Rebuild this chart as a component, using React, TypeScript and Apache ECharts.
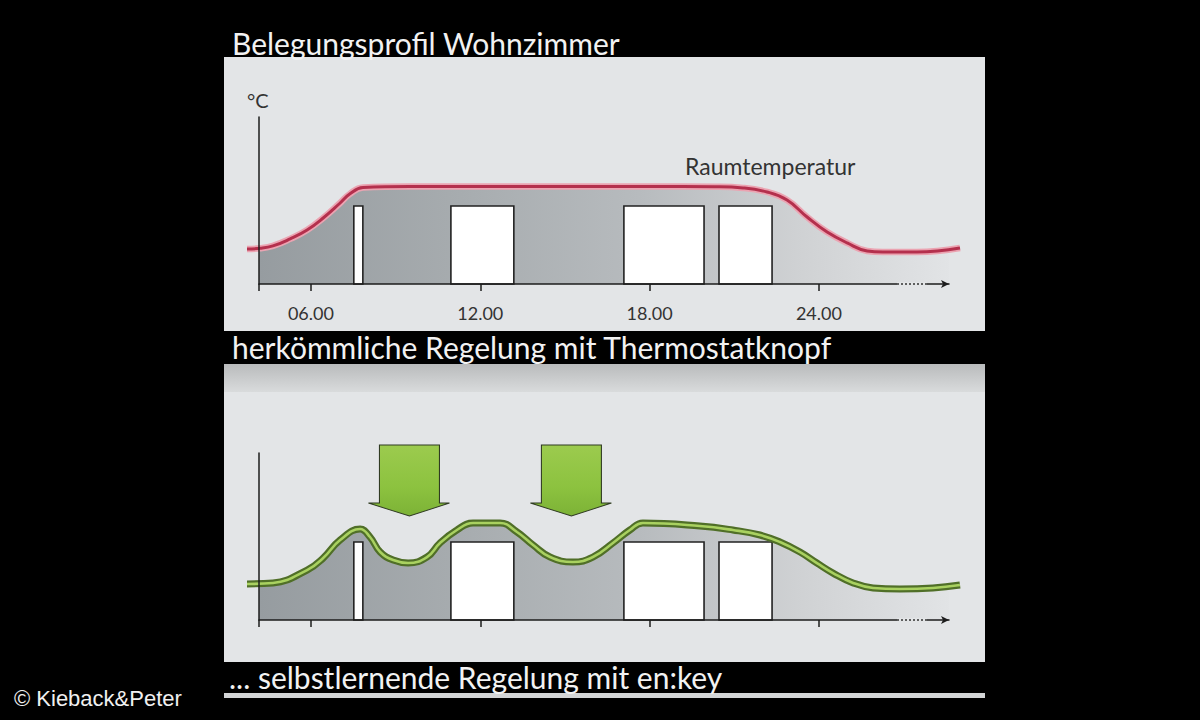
import React, { useEffect, useRef } from "react";
import * as echarts from "echarts";

// ---- axis / ticks ----
const axisStartHour = 4.16;
const axisEndHour = 28.61;
const curveStartHour = 3.73;
const curveEndHour = 29.0;
const tickHours = [6, 12, 18, 24];
const tickLabels = ["06.00", "12.00", "18.00", "24.00"];

// ---- occupancy boxes (hours) ----
const occupancyStart = [7.52, 10.96, 17.09, 20.46];
const occupancyEnd = [7.84, 13.19, 19.93, 22.34];
const occupancyLevel = 46.7;

// ---- conventional thermostat: room temperature (relative units) ----
const conventionalHours = [3.73, 4.2, 4.65, 5.26, 5.86, 6.43, 7.03, 7.38, 7.84, 9.5, 12.0, 15.0, 18.0, 20.3, 21.31, 22.16, 22.87, 23.58, 24.29, 25.0, 25.71, 26.27, 27.47, 29.0];
const conventionalTemp = [21.0, 21.4, 22.8, 27.0, 32.3, 39.5, 48.5, 54.0, 57.8, 58.4, 58.4, 58.4, 58.4, 58.2, 57.5, 55.1, 50.3, 40.1, 31.1, 24.6, 19.8, 19.2, 19.2, 21.6];

// ---- self-learning en:key: room temperature ----
const selfLearningHours = [3.73, 4.65, 5.86, 6.43, 7.03, 7.74, 8.09, 8.45, 8.91, 9.44, 10.11, 10.57, 11.17, 11.74, 12.7, 13.3, 13.87, 14.47, 15.28, 15.99, 16.7, 17.3, 17.76, 19.78, 20.95, 21.91, 22.62, 23.33, 23.93, 24.5, 25.21, 25.92, 26.87, 28.04, 29.0];
const selfLearningTemp = [21.6, 22.2, 29.9, 37.1, 47.9, 54.5, 49.7, 40.7, 35.9, 34.1, 37.7, 46.1, 53.9, 58.1, 58.1, 52.7, 44.9, 37.7, 34.7, 37.7, 46.1, 53.9, 58.1, 56.3, 53.9, 50.9, 46.7, 40.7, 34.1, 28.1, 22.2, 19.2, 18.6, 19.2, 21.0];

// ---- setpoint-lowering arrows (hour, level of arrow centre) ----
const arrowHours = [9.47, 15.21];
const arrowLevels = [83.5, 83.5];

const PANEL = "#e3e5e7";
const FONT = "Lato";
const SMOOTH = 0.45;

export default function App() {
  const ref = useRef<HTMLDivElement>(null);

  useEffect(() => {
    if (!ref.current) return;
    const chart = echarts.init(ref.current, null, { renderer: "svg" });

    const zip = (xs: number[], ys: number[]) => xs.map((x, i) => [x, ys[i]]);
    const topData = zip(conventionalHours, conventionalTemp);
    const botData = zip(selfLearningHours, selfLearningTemp);
    const boxes = occupancyStart.map((s, i) => [s, occupancyEnd[i], occupancyLevel]);

    const areaGrad = {
      type: "linear", x: 0, y: 0, x2: 1, y2: 0,
      colorStops: [
        { offset: 0, color: "#959b9f" },
        { offset: 0.3, color: "#a7acaf" },
        { offset: 0.55, color: "#b7bbbe" },
        { offset: 0.78, color: "#d0d2d4" },
        { offset: 1, color: PANEL },
      ],
    };

    const axisColor = "#1c1c1c";
    const xAxes: any[] = [0, 1].map((i) => ({
      type: "value",
      gridIndex: i,
      min: axisStartHour,
      max: axisEndHour,
      z: 10,
      axisLine: {
        show: true,
        onZero: false,
        symbol: ["none", "arrow"],
        symbolSize: [6, 8],
        lineStyle: { color: axisColor, width: 1.5 },
      },
      axisTick: {
        show: true,
        customValues: [axisStartHour, ...tickHours],
        length: 7,
        lineStyle: { color: axisColor, width: 1.5 },
      },
      axisLabel: {
        show: i === 0,
        customValues: tickHours,
        formatter: (v: number) => {
          const k = tickHours.indexOf(Math.round(v));
          return k >= 0 ? tickLabels[k] : "";
        },
        margin: 20,
        color: "#333333",
        fontSize: 18,
        fontFamily: FONT,
      },
      splitLine: { show: false },
    }));
    // hidden axes of the wider overlay grids for the curves
    [2, 3].forEach((g) =>
      xAxes.push({ type: "value", gridIndex: g, min: curveStartHour, max: curveEndHour, show: false })
    );

    const yAxes: any[] = [0, 1].map((i) => ({
      type: "value",
      gridIndex: i,
      min: 0,
      max: 100,
      z: 10,
      axisLine: { show: true, onZero: false, lineStyle: { color: axisColor, width: 1.5 } },
      axisTick: { show: false },
      axisLabel: { show: false },
      splitLine: { show: false },
    }));
    [2, 3].forEach((g) => yAxes.push({ type: "value", gridIndex: g, min: 0, max: 100, show: false }));

    const boxSeries = (i: number) => ({
      type: "custom",
      xAxisIndex: i,
      yAxisIndex: i,
      z: 3,
      data: boxes,
      renderItem: (params: any, api: any) => {
        const p0 = api.coord([api.value(0), api.value(2)]);
        const p1 = api.coord([api.value(1), 0]);
        return {
          type: "rect",
          shape: { x: p0[0], y: p0[1], width: p1[0] - p0[0], height: p1[1] - p0[1] },
          style: { fill: "#ffffff", stroke: "#222222", lineWidth: 1.6 },
        };
      },
    });

    const arrowPath = "path://M11,0 L71,0 L71,58 L81,58 L41,71 L0,58 L11,58 Z";
    const arrowFill = {
      type: "linear", x: 0, y: 0, x2: 0, y2: 1,
      colorStops: [
        { offset: 0, color: "#9ccb4e" },
        { offset: 0.6, color: "#8cc23f" },
        { offset: 1, color: "#7cb236" },
      ],
    };

    const line = (ax: number, data: number[][], width: number, color: string, z: number, extra: any = {}) => ({
      type: "line", xAxisIndex: ax, yAxisIndex: ax, data, smooth: SMOOTH,
      symbol: "none", lineStyle: { width, color }, z, silent: true, ...extra,
    });

    const option: any = {
      animation: false,
      backgroundColor: "#000000",
      grid: [
        { left: 259, top: 117, width: 690, height: 167 },
        { left: 259, top: 453, width: 690, height: 167 },
        { left: 247, top: 117, width: 713, height: 167 },
        { left: 247, top: 453, width: 713, height: 167 },
      ],
      xAxis: xAxes,
      yAxis: yAxes,
      series: [
        // top chart
        {
          type: "line", xAxisIndex: 0, yAxisIndex: 0, data: topData, smooth: SMOOTH,
          symbol: "none", lineStyle: { width: 0 }, areaStyle: { color: areaGrad, opacity: 1 }, z: 1, silent: true,
        },
        boxSeries(0),
        line(2, topData, 6.5, "#eba3b1", 4),
        line(2, topData, 3, "#b4304d", 5),
        // bottom chart
        {
          type: "line", xAxisIndex: 1, yAxisIndex: 1, data: botData, smooth: SMOOTH,
          symbol: "none", lineStyle: { width: 0 }, areaStyle: { color: areaGrad, opacity: 1 }, z: 1, silent: true,
        },
        boxSeries(1),
        line(3, botData, 7, "#506f28", 4, {
          markPoint: {
            silent: true,
            symbol: arrowPath,
            symbolSize: [81, 71],
            itemStyle: { color: arrowFill, borderColor: "#2f3a22", borderWidth: 1 },
            label: { show: false },
            data: arrowHours.map((h, i) => ({ coord: [h, arrowLevels[i]] })),
          },
        }),
        line(3, botData, 2.6, "#a9d160", 5),
      ],
      graphic: [
        // panels
        { type: "rect", z: -10, shape: { x: 224, y: 57, width: 761, height: 274 }, style: { fill: PANEL } },
        {
          type: "rect", z: -10, shape: { x: 224, y: 364, width: 761, height: 28 },
          style: {
            fill: {
              type: "linear", x: 0, y: 0, x2: 0, y2: 1,
              colorStops: [
                { offset: 0, color: "#b9bbbc" },
                { offset: 1, color: "#d9dbdc" },
              ],
            },
          },
        },
        { type: "rect", z: -10, shape: { x: 224, y: 392, width: 761, height: 270 }, style: { fill: PANEL } },
        { type: "rect", z: -10, shape: { x: 224, y: 693, width: 761, height: 5 }, style: { fill: "#d3d5d6" } },
        // dotted part of time axes
        { type: "rect", z: 20, shape: { x: 897, y: 282, width: 30, height: 4 }, style: { fill: PANEL } },
        { type: "line", z: 21, shape: { x1: 897, y1: 284, x2: 927, y2: 284 }, style: { stroke: "#333", lineWidth: 1.5, lineDash: [2, 2] } },
        { type: "rect", z: 20, shape: { x: 897, y: 618, width: 30, height: 4 }, style: { fill: PANEL } },
        { type: "line", z: 21, shape: { x1: 897, y1: 620, x2: 927, y2: 620 }, style: { stroke: "#333", lineWidth: 1.5, lineDash: [2, 2] } },
        // texts
        {
          type: "text", z: 30, x: 232, y: 43,
          style: { text: "Belegungsprofil Wohnzimmer", fill: "#f2f2f2", font: `30px ${FONT}`, textVerticalAlign: "middle" },
        },
        {
          type: "text", z: 30, x: 232, y: 347,
          style: { text: "herkömmliche Regelung mit Thermostatknopf", fill: "#f2f2f2", font: `30px ${FONT}`, textVerticalAlign: "middle" },
        },
        {
          type: "text", z: 30, x: 229, y: 677,
          style: { text: "... selbstlernende Regelung mit en:key", fill: "#f2f2f2", font: `30px ${FONT}`, textVerticalAlign: "middle" },
        },
        {
          type: "text", z: 30, x: 685, y: 166,
          style: { text: "Raumtemperatur", fill: "#333333", font: `23px ${FONT}`, textVerticalAlign: "middle" },
        },
        {
          type: "text", z: 30, x: 247, y: 100,
          style: { text: "°C", fill: "#333333", font: `20px ${FONT}`, textVerticalAlign: "middle" },
        },
        {
          type: "text", z: 30, x: 14, y: 698,
          style: { text: "© Kieback&Peter", fill: "#f0f0f0", font: "22px 'Liberation Sans'", textVerticalAlign: "middle" },
        },
      ],
    };

    chart.setOption(option);
    return () => chart.dispose();
  }, []);

  return <div ref={ref} style={{ position: "absolute", left: 0, top: 0, width: 1200, height: 720 }} />;
}
